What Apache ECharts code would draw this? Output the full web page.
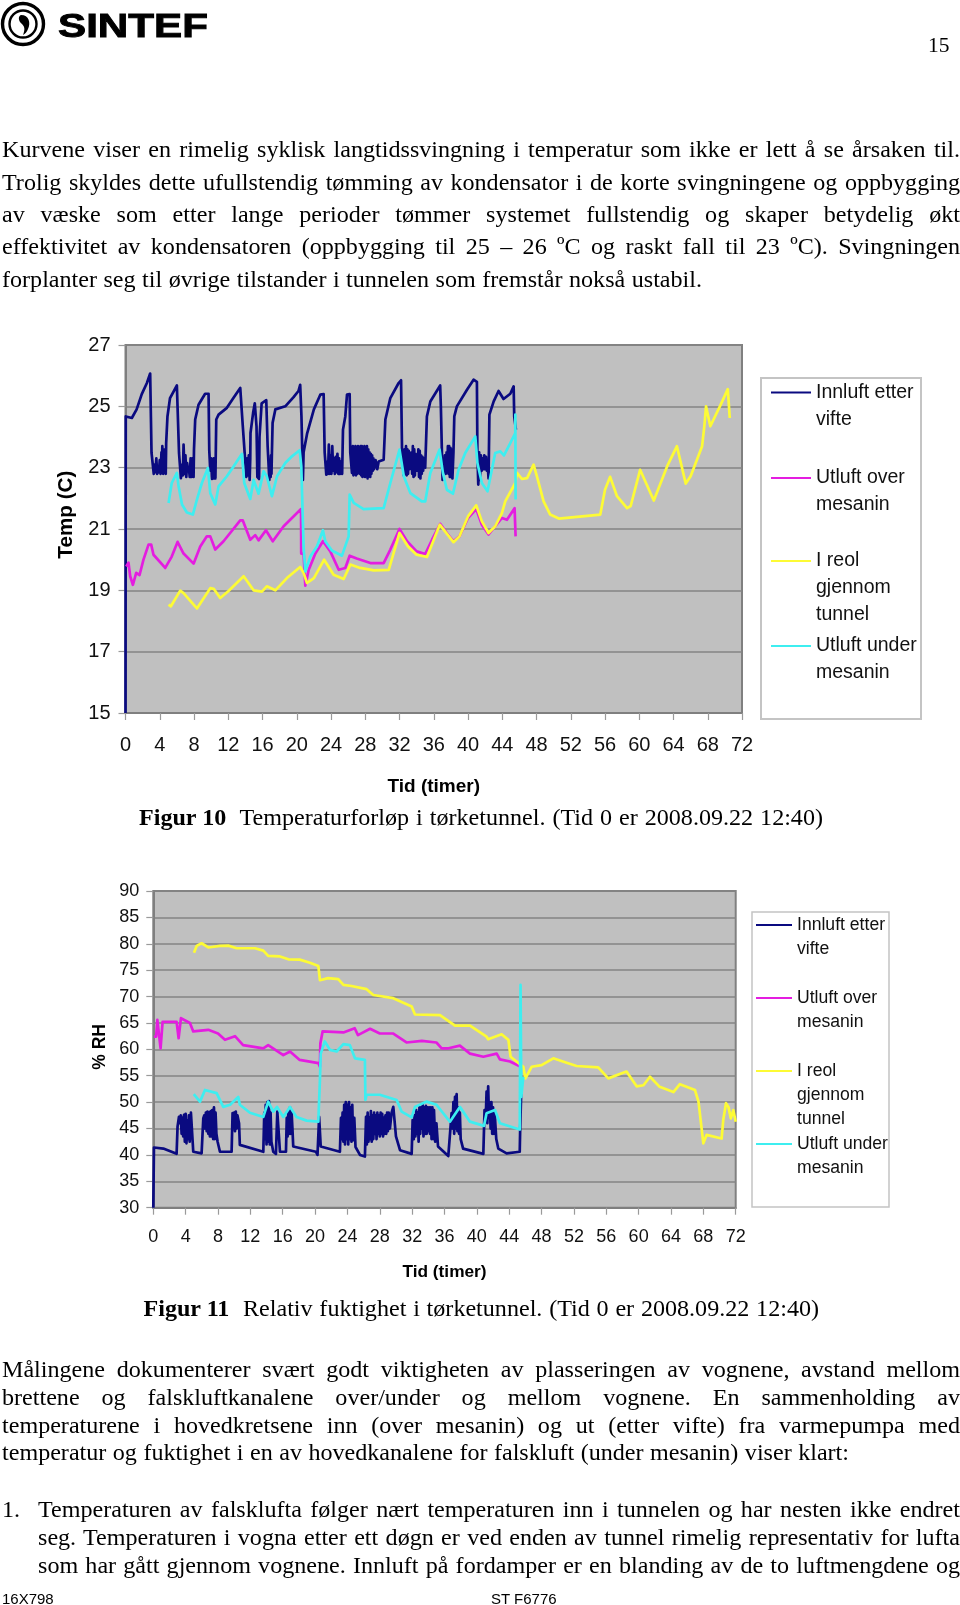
<!DOCTYPE html>
<html><head><meta charset="utf-8">
<style>
html,body{margin:0;padding:0;background:#fff;width:960px;height:1605px;overflow:hidden}
#chart{position:absolute;left:0;top:0;width:960px;height:1605px}
.t{position:absolute;white-space:pre;color:#000;line-height:normal}
.s{font-family:"Liberation Serif",serif}
.a{font-family:"Liberation Sans",sans-serif}
</style>
<script src="https://cdn.jsdelivr.net/npm/echarts@6/dist/echarts.min.js"></script>
</head><body>
<div id="chart"></div>
<svg style="position:absolute;left:0;top:0" width="230" height="55">
<circle cx="23" cy="24" r="20.5" fill="none" stroke="#000" stroke-width="3.4"/>
<circle cx="23" cy="24" r="13.5" fill="none" stroke="#000" stroke-width="2.4"/>
<path d="M21 15 C29 15 31 23 28 29 C27 32 25 34 23 35 C25 30 25 27 22 24 C18 21 18 16 21 15Z" fill="#000"/>
<text id="logoText" x="58" y="37" font-family="Liberation Sans" font-weight="bold" font-size="33.5" textLength="150" lengthAdjust="spacingAndGlyphs" stroke="#000" stroke-width="0.9">SINTEF</text>
</svg>
<script>
// ---------- page text ----------
const para1 = [
 "Kurvene viser en rimelig syklisk langtidssvingning i temperatur som ikke er lett å se årsaken til.",
 "Trolig skyldes dette ufullstendig tømming av kondensator i de korte svingningene og oppbygging",
 "av væske som etter lange perioder tømmer systemet fullstendig og skaper betydelig økt",
 "effektivitet av kondensatoren (oppbygging til 25 – 26 ºC og raskt fall til 23 ºC). Svingningen",
 "forplanter seg til øvrige tilstander i tunnelen som fremstår nokså ustabil."];
const para2 = [
 "Målingene dokumenterer svært godt viktigheten av plasseringen av vognene, avstand mellom",
 "brettene og falskluftkanalene over/under og mellom vognene. En sammenholding av",
 "temperaturene i hovedkretsene inn (over mesanin) og ut (etter vifte) fra varmepumpa med",
 "temperatur og fuktighet i en av hovedkanalene for falskluft (under mesanin) viser klart:"];
const listLines = [
 "Temperaturen av falsklufta følger nært temperaturen inn i tunnelen og har nesten ikke endret",
 "seg. Temperaturen i vogna etter ett døgn er ved enden av tunnel rimelig representativ for lufta",
 "som har gått gjennom vognene. Innluft på fordamper er en blanding av de to luftmengdene og"];
const caption1 = ["Figur 10", "Temperaturforløp i tørketunnel. (Tid 0 er 2008.09.22 12:40)"];
const caption2 = ["Figur 11", "Relativ fuktighet i tørketunnel. (Tid 0 er 2008.09.22 12:40)"];

// ---------- series names ----------
const nameInn = "Innluft etter\nvifte";
const nameOver = "Utluft over\nmesanin";
const nameReol = "I reol\ngjennom\ntunnel";
const nameUnder = "Utluft under\nmesanin";

// ---------- Figure 10: temperature, [hours, deg C] ----------
const tempInnluft = [[0,15],[0.03,24.67],[0.74,24.62],[1.3,24.9],[1.9,25.4],[2.5,25.76],[2.88,26.07],[3.0,26.07],[3.04,23.48],
[3.3,22.8],[3.4,23.1],[3.5,22.85],[3.6,23.3],[3.7,22.8],[3.8,23.0],[3.9,22.85],[4.0,23.25],[4.1,22.8],[4.2,23.5],[4.25,22.9],[4.3,23.7],[4.4,22.8],[4.45,23.55],[4.5,22.85],[4.6,23.6],[4.7,22.8],[4.75,23.8],
[4.9,24.67],[5.2,25.27],[6.0,25.68],[6.2,25.68],[6.25,23.48],[6.47,22.66],[6.6,23.1],[6.7,22.75],[6.78,23.75],[6.9,22.8],[7.0,23.4],[7.1,22.7],[7.2,23.15],[7.3,22.9],[7.4,23.0],[7.5,22.7],[7.6,23.3],[7.7,22.7],[7.8,23.3],[7.95,22.7],[8.0,23.6],
[8.14,24.57],[8.53,25.05],[9.3,25.41],[9.7,25.41],[9.78,23.59],[9.9,22.9],[10.0,23.3],[10.1,22.63],[10.15,23.25],[10.2,22.7],[10.3,23.3],[10.35,22.65],[10.4,23.3],[10.5,22.65],
[10.6,24.57],[10.87,24.73],[11.84,24.95],[12.6,25.27],[13.4,25.6],[13.63,25.65],[13.7,24.35],[14.0,23.15],[14.1,22.7],[14.2,23.3],[14.3,22.75],[14.4,23.4],[14.5,22.6],[14.57,23.3],
[14.6,24.13],[14.9,24.78],[15.1,25.1],[15.3,24.35],[15.4,22.7],[15.6,22.63],[15.65,24.0],[15.9,25.1],[16.44,25.2],[16.6,23.7],[16.8,22.6],[16.9,23.2],[16.95,22.7],[17.0,23.4],[17.05,22.8],[17.1,23.5],
[17.18,24.46],[17.5,24.9],[18.66,25.0],[19.63,25.3],[20.2,25.5],[20.4,25.7],[20.55,24.67],[20.72,22.6],[20.8,23.5],[21.2,24.1],[22.0,24.9],[22.75,25.38],[23.14,25.4],[23.26,23.5],
[23.45,22.77],[23.55,23.2],[23.65,22.8],[23.75,23.75],[23.85,22.8],[23.95,23.4],[24.05,22.8],[24.15,23.7],[24.25,22.9],[24.35,23.3],[24.45,22.8],[24.55,23.35],[24.65,22.85],[24.75,23.45],[24.85,22.8],[24.95,23.3],[25.05,22.8],[25.15,23.2],[25.3,22.8],
[25.4,24.24],[25.67,24.67],[25.87,25.38],[26.18,25.4],[26.25,23.5],[26.45,22.83],[26.55,23.7],[26.62,22.75],[26.7,23.65],[26.78,22.8],[26.85,23.7],[26.92,22.75],[27.0,23.65],[27.08,22.8],[27.15,23.7],[27.22,22.85],[27.3,23.6],[27.38,22.8],[27.45,23.7],[27.52,22.75],[27.6,23.7],[27.68,22.7],[27.75,23.65],[27.82,22.8],[27.9,23.7],[27.98,22.7],[28.05,23.6],[28.12,22.75],[28.2,23.7],[28.28,22.65],[28.35,23.6],[28.42,22.75],[28.5,23.5],[28.58,22.7],[28.65,23.45],[28.72,22.8],[28.8,23.4],[28.88,22.9],[28.95,23.3],[29.02,22.95],[29.2,23.25],[29.4,22.95],[29.57,23.2],
[30.15,23.26],[30.35,24.57],[30.93,25.27],[31.9,25.76],[32.18,25.85],[32.3,23.5],[32.4,23.1],[32.5,22.75],[32.6,23.6],[32.68,22.8],[32.76,23.7],[32.84,22.75],[32.92,23.6],[33.0,22.8],[33.08,23.55],[33.16,22.95],[33.24,23.3],[33.32,23.0],[33.4,23.5],[33.48,22.8],[33.56,23.7],[33.64,22.7],[33.72,23.6],[33.8,22.75],[33.88,23.45],[33.96,22.9],[34.04,23.25],[34.12,22.9],[34.2,23.6],[34.28,22.7],[34.36,23.55],[34.44,22.65],[34.52,23.4],[34.6,22.8],[34.68,23.35],[34.76,22.9],[34.84,23.3],[35.0,23.0],
[35.2,24.67],[35.6,25.16],[36.75,25.68],[36.83,25.0],[37.03,22.6],[37.1,23.2],[37.2,22.85],[37.3,23.4],[37.4,22.8],[37.5,23.5],[37.58,22.85],[37.65,23.7],[37.72,22.8],[37.8,23.7],[37.88,22.7],[37.95,23.65],[38.02,22.7],[38.1,23.6],[38.18,22.65],[38.3,23.5],
[38.4,24.67],[38.7,25.0],[39.9,25.55],[40.65,25.87],[41.04,25.8],[41.1,23.48],[41.2,22.45],[41.3,23.5],[41.4,22.6],[41.5,23.4],[41.6,22.9],[41.7,23.3],[41.8,22.95],[41.9,23.4],[42.0,22.95],[42.1,23.35],[42.2,22.9],[42.3,23.1],[42.4,22.65],
[42.5,24.73],[43.0,25.16],[43.57,25.5],[44.15,25.24],[44.94,25.41],[45.33,25.65],[45.4,24.67],[45.6,24.24]];
const tempOver = [[0.08,19.78],[0.35,19.9],[0.55,19.46],[0.86,19.18],[1.25,19.57],[1.64,19.5],[2.1,20.0],[2.69,20.49],[3.0,20.49],[3.27,20.16],[4.64,19.73],[5.4,20.1],[6.08,20.58],[6.78,20.2],[7.95,19.87],[8.73,20.43],[9.5,20.76],[9.9,20.76],[10.48,20.33],[11.45,20.6],[13.4,21.28],[13.7,21.28],[14.57,20.65],[15.15,20.8],[15.54,20.63],[16.4,20.96],[17.2,20.6],[18.47,21.09],[20.5,21.65],[20.52,20.2],[20.8,20.2],[21.0,19.15],[21.4,19.67],[22.17,20.2],[23.06,20.6],[23.92,20.27],[24.9,19.67],[25.67,19.73],[26.18,20.13],[27.0,20.04],[28.6,19.89],[30.15,19.89],[30.93,20.33],[32.0,21.0],[32.88,20.6],[34.0,20.27],[35.0,20.18],[35.8,20.65],[36.75,21.17],[37.53,20.87],[38.3,20.6],[39.0,20.76],[40.0,21.36],[40.96,21.65],[41.62,21.14],[42.4,20.82],[43.18,21.09],[43.96,21.36],[44.55,21.3],[45.44,21.68],[45.56,20.76]];
const tempReol = [[5.03,18.53],[5.3,18.48],[6.39,18.99],[6.78,18.91],[8.34,18.41],[9.9,19.07],[10.3,19.05],[11.06,18.75],[12.0,18.97],[13.8,19.46],[14.96,19.0],[15.93,18.96],[16.5,19.13],[17.5,19.0],[18.85,19.4],[20.4,19.76],[20.8,19.57],[21.2,19.24],[22.0,19.4],[23.2,20.0],[24.3,19.51],[25.48,19.37],[26.26,19.84],[27.4,19.73],[29.0,19.65],[30.74,19.67],[32.0,20.87],[33.0,20.43],[34.0,20.16],[35.2,20.09],[36.7,21.14],[38.3,20.57],[39.0,20.76],[40.0,21.41],[40.96,21.77],[41.62,21.25],[42.4,20.87],[43.18,21.09],[43.96,21.52],[44.35,21.9],[45.52,22.5],[45.72,22.83],[46.3,22.63],[46.9,22.66],[47.66,23.1],[48.05,22.72],[48.83,21.9],[49.6,21.47],[50.6,21.34],[55.45,21.47],[56.0,22.28],[56.6,22.7],[57.4,22.07],[58.57,21.68],[59.0,21.75],[60.1,22.93],[61.7,21.93],[63.25,23.04],[64.4,23.7],[65.43,22.48],[66.0,22.72],[67.34,23.7],[67.6,24.35],[67.8,25.0],[68.0,25.0],[68.3,24.35],[69.5,25.05],[70.34,25.56],[70.57,24.62]];
const tempUnder = [[5.03,21.85],[5.4,22.5],[6.0,22.83],[6.2,22.39],[6.6,21.8],[7.17,21.54],[7.87,21.47],[8.34,21.96],[8.92,22.5],[9.62,22.99],[9.9,22.17],[10.48,21.8],[10.87,22.39],[11.84,22.72],[12.62,23.04],[13.6,23.45],[13.87,22.5],[14.57,21.98],[14.96,22.6],[15.15,22.6],[15.54,22.15],[16.13,22.88],[16.5,22.72],[17.1,22.07],[17.7,22.72],[18.66,23.15],[19.44,23.37],[20.34,23.57],[20.53,23.04],[20.8,20.43],[21.0,19.62],[21.58,20.1],[22.36,20.43],[23.06,20.96],[23.33,20.6],[24.1,20.3],[25.28,20.13],[26.06,20.76],[26.18,22.12],[26.65,21.85],[27.8,21.65],[30.15,21.68],[30.93,22.5],[32.0,23.59],[32.5,22.72],[33.27,22.17],[34.6,21.9],[35.0,21.9],[35.6,22.83],[36.68,23.59],[37.07,22.83],[37.53,22.28],[38.24,22.15],[38.9,22.93],[39.68,23.48],[40.85,24.02],[41.1,23.15],[41.62,22.5],[42.28,22.23],[43.18,23.48],[43.77,23.53],[44.2,23.4],[44.94,23.8],[45.52,24.13],[45.53,24.73],[45.56,21.96]];

// ---------- Figure 11: relative humidity, [hours, % RH] ----------
const rhInnluft = [[0,30],[0.08,41.4],[1.24,41.2],[2.88,40.2],[3.0,45.4],[3.17,47.2],[3.3,46],[3.4,47.5],[3.5,44],[3.6,47],[3.7,43.5],[3.8,47.6],[3.9,42.5],[4.0,47.8],[4.1,42.2],[4.2,46.5],[4.3,43],[4.4,47.5],[4.5,42.5],[4.65,48],
[4.94,40.6],[5.97,40.3],[6.18,46.9],[6.3,47.5],[6.4,45],[6.5,48],[6.6,44.5],[6.7,48.2],[6.8,44],[6.9,48],[7.0,43.5],[7.1,48.3],[7.2,43.5],[7.3,48.5],[7.4,43],[7.5,49],[7.6,43],[7.7,48],[7.8,44],[7.95,42.5],
[8.24,40.6],[9.68,40.6],[9.8,47.9],[9.9,45.5],[10.0,48],[10.1,44.5],[10.2,48.2],[10.3,45],[10.4,47.5],[10.6,46],
[10.7,41.9],[13.6,40.6],[13.72,48],[13.8,43],[13.9,49.5],[14.0,42],[14.1,50],[14.2,42.5],[14.3,50.2],[14.4,42],[14.5,48],[14.6,42.5],[14.83,40.6],[15.16,40.2],[15.33,48.2],[15.5,48.5],[15.66,40.6],[16.4,40.6],[16.5,47],[16.6,43.5],[16.7,48.5],[16.8,44],[16.9,49],[17.0,44],[17.1,48],[17.2,45],[17.3,41.6],
[20.1,40.6],[20.3,40],[20.5,47.2],[20.7,41.6],[23.07,40.6],[23.2,47],[23.3,43],[23.4,48],[23.5,42.5],[23.6,49.5],[23.7,42],[23.8,50],[23.9,43],[24.0,49.5],[24.1,42],[24.2,50],[24.3,43],[24.4,49],[24.5,42.5],[24.6,49.5],[24.7,42.8],[24.85,47],[25.0,41.5],
[25.55,40],[26.16,39.7],[26.3,47.2],[26.4,42],[26.5,48],[26.6,42.5],[26.7,47],[26.8,43],[26.9,48.3],[27.0,42.5],[27.1,47.5],[27.2,43],[27.3,48],[27.4,44],[27.5,47.5],[27.6,43],[27.7,48],[27.8,44],[27.9,47.5],[28.0,43.5],[28.1,48],[28.2,44],[28.3,47.8],[28.4,43.5],[28.5,47],[28.6,44],[28.7,47.5],[28.8,44],[28.9,48],[29.0,44.5],[29.1,48],[29.25,45],[29.46,48],[29.67,49.1],[30.0,43.5],[30.5,40.9],
[31.94,40.2],[32.06,46.6],[32.2,43],[32.3,47.5],[32.4,43.5],[32.5,48.5],[32.6,44],[32.7,48],[32.8,42.5],[32.9,49],[33.0,44],[33.1,49],[33.2,45],[33.3,49.5],[33.4,43.5],[33.5,49],[33.6,44],[33.7,49.3],[33.8,44],[33.9,49],[34.0,44.5],[34.1,49],[34.2,44],[34.3,49],[34.4,43],[34.5,49],[34.6,43],[34.7,48.5],[34.85,42.5],[35.0,46],
[35.2,41.6],[36.47,39.8],[36.88,47.9],[37.0,45],[37.1,50],[37.2,44],[37.3,51],[37.4,45],[37.5,51.5],[37.6,44.5],[37.7,49],[37.8,44],[37.9,48],[38.0,43],[38.3,41.2],[40.8,40.2],[40.95,48.5],[41.1,47],[41.2,52],[41.3,46],[41.4,53],[41.5,47],[41.6,50],[41.7,45],[41.8,50],[41.9,44],[42.0,49],[42.1,44],[42.2,48],[42.4,43],[42.65,41.2],[43.68,40.3],[45.3,40.6],[45.35,44.5],[45.5,52.9],[45.52,51.5]];
const rhOver = [[0.08,62.4],[0.35,62.4],[0.5,65.6],[0.74,65.9],[0.9,60.2],[1.15,65.2],[2.88,65.2],[3.13,62.1],[3.42,65.9],[4.53,65.0],[4.94,63.4],[6.8,63.7],[8.0,63.0],[8.86,61.8],[10.1,62.5],[11.1,60.8],[13.6,60.2],[14.2,60.8],[16.07,58.9],[16.9,59.6],[18.1,58.0],[20.4,57.4],[20.6,56.7],[20.65,61.1],[20.93,63.4],[23.5,63.2],[24.9,64.0],[25.3,62.7],[26.8,63.9],[28.0,63.0],[29.67,63.0],[31.3,61.3],[33.2,61.6],[35.0,61.3],[35.65,60.2],[36.5,60.2],[37.9,60.7],[39.15,59.2],[40.8,58.6],[42.45,59.2],[42.85,58.1],[44.1,57.7],[45.3,56.8]];
const rhReol = [[5.03,78.3],[5.36,79.6],[5.97,80.1],[6.8,79.3],[8.24,79.6],[9.27,79.65],[10.3,79.15],[12.57,79.15],[13.6,78.7],[14.2,77.7],[15.66,77.6],[16.7,77.06],[18.1,77.0],[19.37,76.4],[20.4,75.8],[20.6,73.1],[21.6,73.5],[22.87,73.3],[23.5,72.2],[24.5,72.0],[26.37,71.4],[27.2,70.3],[29.67,69.7],[31.94,68.1],[32.35,66.6],[35.44,66.5],[37.3,64.5],[39.15,64.5],[41.2,62.4],[41.4,61.9],[43.06,62.85],[43.9,61.8],[44.17,58.6],[44.9,57.7],[45.74,56.7],[46.0,54.5],[46.77,56.7],[48.0,57.0],[49.45,58.3],[51.0,57.5],[52.33,56.85],[55.0,56.6],[56.25,54.5],[58.5,55.8],[59.75,53.0],[60.6,53.2],[61.4,54.8],[62.6,52.9],[64.3,51.9],[65.1,53.4],[66.96,52.3],[67.4,50.1],[68.0,42.2],[68.4,43.8],[70.26,43.1],[70.46,46.6],[70.8,49.8],[71.1,49.1],[71.4,46.9],[71.7,48.5],[72.0,46.3]];
const rhUnder = [[5.0,51.5],[5.77,50.1],[6.39,52.3],[7.83,51.7],[8.65,49.1],[9.5,49.5],[10.5,51.0],[10.7,49.5],[11.95,48.0],[13.6,47.2],[14.2,50.1],[14.83,48.2],[15.3,49.1],[16.07,47.2],[16.9,49.1],[17.7,47.2],[18.95,46.5],[20.4,46.3],[20.6,54.2],[20.7,59.2],[21.2,61.5],[21.84,59.9],[22.66,59.6],[23.5,61.0],[24.3,60.8],[24.93,58.3],[26.16,58.0],[26.22,50.4],[26.37,51.4],[28.0,51.4],[30.08,50.4],[30.7,48.2],[31.94,47.1],[32.35,49.1],[33.8,50.1],[35.0,49.5],[36.67,46.3],[37.9,49.1],[39.15,46.3],[40.88,45.5],[41.2,47.9],[42.24,48.5],[42.85,46.0],[45.3,44.8],[45.4,72.2],[45.5,51.0],[45.74,54.8]];

// ---------- axes ----------
const timeMin = 0, timeMax = 72, timeStep = 4;
const tempMin = 15, tempMax = 27, tempStep = 2;
const rhMin = 30, rhMax = 90, rhStep = 5;

const colors = {inn:'#0a0a80', over:'#e41de0', reol:'#fdfb35', under:'#3eeef0'};
const sans = '"Liberation Sans",Arial,sans-serif';

function axes(g, tick, xNameSize, yNameSize, xGap, labelMarginX, labelMarginY, yName, yGap, min, max, step){
  const axisLine = {show:true, lineStyle:{color:'#7f7f7f', width:2}};
  const axisTick = {show:true, length:7, lineStyle:{color:'#9a9a9a', width:1.2}};
  return {
    x:{gridIndex:g, type:'value', min:timeMin, max:timeMax, interval:timeStep, position:'bottom',
       name:'Tid (timer)', nameLocation:'middle', nameGap:xGap, nameMoveOverlap:false,
       nameTextStyle:{fontFamily:sans,fontWeight:'bold',fontSize:xNameSize,color:'#000'},
       axisLine, axisTick, splitLine:{show:false},
       axisLabel:{fontFamily:sans,fontSize:tick,color:'#111',margin:labelMarginX,showMinLabel:true,showMaxLabel:true,hideOverlap:false}},
    y:{gridIndex:g, type:'value', min, max, interval:step,
       name:yName, nameLocation:'middle', nameGap:yGap, nameMoveOverlap:false,
       nameTextStyle:{fontFamily:sans,fontWeight:'bold',fontSize:yNameSize,color:'#000'},
       axisLine, axisTick,
       splitLine:{show:true,lineStyle:{color:'#848484',width:1.5}},
       axisLabel:{fontFamily:sans,fontSize:tick,color:'#111',margin:labelMarginY,showMinLabel:true,showMaxLabel:true}}
  };
}
function ser(name,data,color,g){
  return {type:'line',name,data,xAxisIndex:g,yAxisIndex:g,symbol:'none',showSymbol:false,smooth:false,
    silent:true,animation:false,clip:true,lineStyle:{color,width:2.7,join:'round'},itemStyle:{color}};
}
function leg(name,left,top,size,lh,nLines,itemW){
  return {show:true,data:[name],orient:'vertical',left,top,padding:0,selectedMode:false,itemWidth:itemW,itemHeight:2,icon:'rect',
    formatter:n=>'\n'.repeat(nLines-1)+n,
    textStyle:{fontFamily:sans,fontSize:size,lineHeight:lh,color:'#111'}};
}
const a1 = axes(0,20,19,20.7,64,22,15,'     Temp (C)',49,tempMin,tempMax,tempStep);
const a2 = axes(1,18,17.3,17.5,56,20,14,' % RH',44.5,rhMin,rhMax,rhStep);

const chart = echarts.init(document.getElementById('chart'),null,{renderer:'canvas'});
chart.setOption({
  animation:false,
  backgroundColor:'#fff',
  grid:[
    {left:125.5,top:345,width:616.5,height:368,show:true,backgroundColor:'#c0c0c0',borderColor:'#808080',borderWidth:2},
    {left:153.3,top:891,width:582.4,height:316.7,show:true,backgroundColor:'#c0c0c0',borderColor:'#808080',borderWidth:2}
  ],
  xAxis:[a1.x,a2.x], yAxis:[a1.y,a2.y],
  legend:[
    leg(nameInn,771,352,19.5,27,2,40),
    leg(nameOver,771,437.5,19.5,27,2,40),
    leg(nameReol,771,493.5,19.5,27,3,40),
    leg(nameUnder,771,605.5,19.5,27,2,40),
    leg(nameInn,756,889,17.6,24,2,36),
    leg(nameOver,756,962,17.6,24,2,36),
    leg(nameReol,756,1011,17.6,24,3,36),
    leg(nameUnder,756,1108,17.6,24,2,36)
  ],
  graphic:[
    {type:'rect',z:-1,shape:{x:761,y:378,width:160,height:341},style:{fill:'#fff',stroke:'#c4c4c4',lineWidth:2}},
    {type:'rect',z:-1,shape:{x:752,y:912,width:137,height:295},style:{fill:'#fff',stroke:'#c4c4c4',lineWidth:1.5}}
  ],
  series:[
    ser(nameInn,tempInnluft,colors.inn,0),ser(nameOver,tempOver,colors.over,0),ser(nameReol,tempReol,colors.reol,0),ser(nameUnder,tempUnder,colors.under,0),
    ser(nameInn,rhInnluft,colors.inn,1),ser(nameOver,rhOver,colors.over,1),ser(nameReol,rhReol,colors.reol,1),ser(nameUnder,rhUnder,colors.under,1)
  ]
});

// ---------- surrounding page text (real text, word-spaced to the measured line ends) ----------
function put(text,x,baseline,size,opts){
  opts=opts||{};
  const d=document.createElement('div');
  d.className='t '+(opts.cls||'s');
  d.textContent=text;
  d.style.left=x+'px';
  d.style.fontSize=size+'px';
  if(opts.bold) d.style.fontWeight='bold';
  const asc=(opts.cls==='a')?0.905:0.891;
  d.style.top=(baseline-asc*size)+'px';
  document.body.appendChild(d);
  if(opts.end){
    const n=(text.match(/ /g)||[]).length;
    if(n) d.style.wordSpacing=((opts.end-x-d.getBoundingClientRect().width)/n)+'px';
  }
  return d;
}
const S=24.1;
put("15",928,52,21.5);
const base1=[157,190,222.5,254.5,287], ends1=[960,960,960,960,702];
para1.forEach((l,i)=>put(l,2,base1[i],S,{end:ends1[i]}));
const base2=[1377.5,1405,1433,1460.5], ends2=[960,960,960,849];
para2.forEach((l,i)=>put(l,2,base2[i],S,{end:ends2[i]}));
put("1.",2,1517.7,S);
const base3=[1517.7,1545.7,1573.7];
listLines.forEach((l,i)=>put(l,38,base3[i],S,{end:960}));
put(caption1[0],139,825,S,{bold:true});
put(caption1[1],239.5,825,S,{end:823});
put(caption2[0],143.5,1316,S,{bold:true});
put(caption2[1],243,1316,S,{end:819});
put("16X798",2,1604,15,{cls:'a'});
put("ST F6776",491,1604,15,{cls:'a'});
</script>
</body></html>
